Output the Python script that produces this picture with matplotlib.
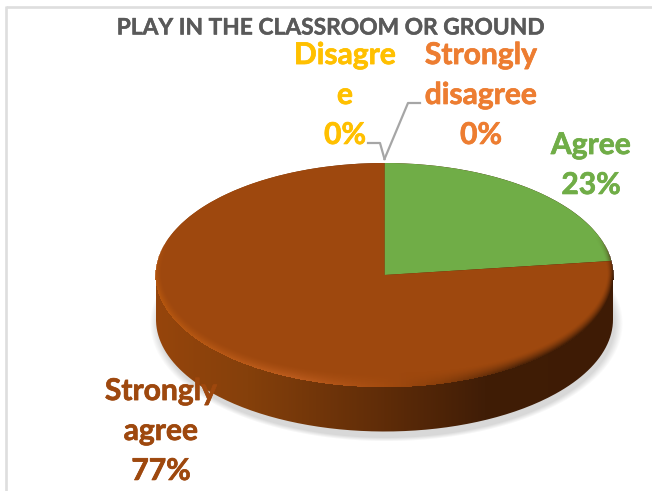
import numpy as np
import matplotlib
matplotlib.use("Agg")
import matplotlib.pyplot as plt
import matplotlib.patheffects as pe
from matplotlib.colors import LinearSegmentedColormap, to_rgb
from matplotlib.path import Path
from matplotlib.patches import PathPatch

plt.rcParams['font.family'] = ['Lato', 'DejaVu Sans']

title = "PLAY IN THE CLASSROOM OR GROUND"
categories = ["Agree", "Disagree", "Strongly disagree", "Strongly agree"]
values = [23, 0, 0, 77]
colors = ["#70AD47", "#FFC000", "#ED7D31", "#9E480E"]
label_texts = ["Agree\n23%", "Disagre\ne\n0%", "Strongly\ndisagree\n0%", "Strongly\nagree\n77%"]
label_pos = [(591, 165), (345, 95), (481, 95), (161, 431)]

W, H = 652, 491
cx, cy, a, b = 384.5, 275.0, 228.5, 112.0
depth = 44.5

fig = plt.figure(figsize=(W / 100, H / 100), dpi=100)
fig.patch.set_facecolor("white")

# background axes in image pixels: page edge, shadow, side of the disc
bg = fig.add_axes([0, 0, 1, 1], zorder=0)
bg.axis("off")

bg.plot([6, W], [7, 7], color="#DEDEDE", lw=1.9, solid_capstyle="butt")
bg.plot([6, 6], [6, H], color="#DEDEDE", lw=1.9, solid_capstyle="butt")

xx, yy = np.meshgrid(np.arange(W) + 0.5, np.arange(H) + 0.5)

# soft grey shadow under the disc
r_sh = np.sqrt(((xx - (cx + 2)) / (a + 8)) ** 2 + ((yy - (cy + depth + 4)) / (b + 6)) ** 2)
sh = np.clip((1.0 - r_sh) / 0.035, 0, 1)
sh_img = np.zeros((H, W, 4))
sh_img[..., :3] = to_rgb("#D8D8D8")
sh_img[..., 3] = sh
bg.imshow(sh_img, extent=(0, W, H, 0), aspect="auto", zorder=1)

# side wall, gradient from left to right
side_cmap = LinearSegmentedColormap.from_list(
    "side",
    [(0, "#96450C"), (0.2, "#85400B"), (0.5, "#5F2C08"), (0.72, "#401D06"), (1, "#3E1B05")],
)
t = np.linspace(0, np.pi, 200)
lower_x = cx + a * np.cos(t)
lower_y = cy + depth + b * np.sin(t)
upper_x = cx - a * np.cos(t)
upper_y = cy - b * np.sin(t)
side_path = Path(np.column_stack([np.r_[lower_x, upper_x], np.r_[lower_y, upper_y]]))
clip = PathPatch(side_path, transform=bg.transData, fc="none", ec="none")
bg.add_patch(clip)
grad = bg.imshow(
    np.linspace(0, 1, 256)[None, :],
    extent=(cx - a, cx + a, H, 0),
    cmap=side_cmap,
    aspect="auto",
    zorder=2,
)
grad.set_clip_path(clip)
bg.set_xlim(0, W)
bg.set_ylim(H, 0)

# the pie itself, stretched into an ellipse by its axes box
pie_ax = fig.add_axes(
    [(cx - a) / W, 1 - (cy + b) / H, 2 * a / W, 2 * b / H], zorder=1
)
pie_ax.pie(values, colors=colors, startangle=90, counterclock=False, radius=1,
           wedgeprops={"linewidth": 0})
pie_ax.set_aspect("auto")
pie_ax.set_xlim(-1, 1)
pie_ax.set_ylim(-1, 1)

# overlay axes: bevel of the rim, leader lines and all text
top = fig.add_axes([0, 0, 1, 1], zorder=2)
top.axis("off")

dx = (xx - cx) / a
dy = (yy - cy) / b
r = np.sqrt(dx ** 2 + dy ** 2)
# distance to the edge along the ray from the centre, rim is wider at the bottom
edge = (1 - r) * np.sqrt((xx - cx) ** 2 + (yy - cy) ** 2) / np.maximum(r, 1e-3)
rim_w = 6 + 10 * np.clip(dy, 0, 1)
lower = np.clip((dy + 0.35) / 0.4, 0, 1)
rim_a = np.clip(1 - edge / rim_w, 0, 1) ** 1.6 * lower * (r <= 1.003)
rim_cmap = LinearSegmentedColormap.from_list(
    "rim",
    [(0, "#B5560F"), (0.3, "#BC5C1E"), (0.5, "#A54C10"), (0.62, "#8A3F0B"), (0.8, "#4E2408"), (1, "#3E1B05")],
)
rim = rim_cmap(np.clip((xx - (cx - a)) / (2 * a), 0, 1))
rim[..., 3] = rim_a
top.imshow(rim, extent=(0, W, H, 0), aspect="auto", zorder=1)
top.set_xlim(0, W)
top.set_ylim(H, 0)

# leader lines for the two 0% slices
top.plot([368, 380, 384.5], [143, 143, 159], color="#A6A6A6", lw=1.6, zorder=2)
top.plot([384.5, 408, 420], [159, 103, 103], color="#A6A6A6", lw=1.6, zorder=2)

t_title = top.text(331, 28, title, color="#595959", fontsize=16.4, fontweight="bold",
                   ha="center", va="center", zorder=3)
t_title.set_path_effects([pe.withStroke(linewidth=0.3, foreground="#595959")])

for txt, pos, col in zip(label_texts, label_pos, colors):
    lab = top.text(pos[0], pos[1], txt, color=col, fontsize=21.6, fontweight="bold",
                   ha="center", va="center", linespacing=1.52, zorder=3)
    lab.set_path_effects([pe.withStroke(linewidth=0.5, foreground=col)])

fig.savefig("out.png", dpi=100)
